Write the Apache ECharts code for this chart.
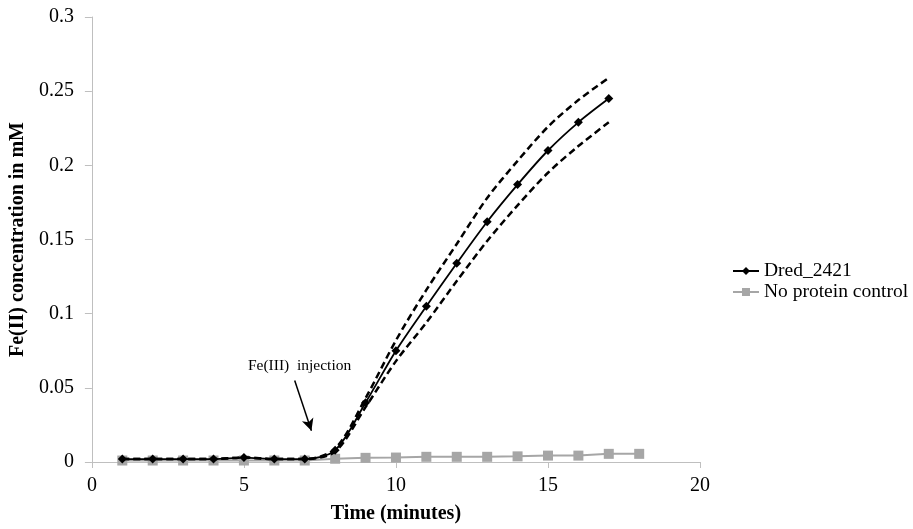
<!DOCTYPE html>
<html>
<head>
<meta charset="utf-8">
<script src="https://cdn.jsdelivr.net/npm/echarts@6/dist/echarts.min.js"></script>
<style>
    html, body { margin: 0; padding: 0; background: #fff; }
    #chart { width: 913px; height: 529px; }
</style>
</head>
<body>
<div id="chart"></div>
<script>
var timeDred = [1, 2, 3, 4, 5, 6, 7, 8, 9, 10, 11, 12, 13, 14, 15, 16, 17];
var dred = [0.002, 0.002, 0.002, 0.002, 0.003, 0.002, 0.002, 0.008, 0.040, 0.075, 0.105, 0.134, 0.162, 0.187, 0.210, 0.229, 0.245];
var dredUpper = [0.002, 0.002, 0.002, 0.002, 0.003, 0.002, 0.002, 0.009, 0.043, 0.082, 0.116, 0.147, 0.178, 0.203, 0.226, 0.244, 0.259];
var dredLower = [0.002, 0.002, 0.002, 0.002, 0.003, 0.002, 0.002, 0.007, 0.037, 0.068, 0.094, 0.122, 0.149, 0.173, 0.195, 0.213, 0.229];

var timeCtrl = [1, 2, 3, 4, 5, 6, 7, 8, 9, 10, 11, 12, 13, 14, 15, 16, 17, 18];
var noProtein = [0.001, 0.001, 0.001, 0.001, 0.001, 0.001, 0.001, 0.0022, 0.0028, 0.003, 0.0035, 0.0035, 0.0035, 0.0038, 0.0043, 0.0043, 0.0055, 0.0055];

var yTicks = ['0', '0.05', '0.1', '0.15', '0.2', '0.25', '0.3'];
var annotationText = 'Fe(III)  injection';

function pairs(xs, ys) {
    return xs.map(function (x, i) { return [x, ys[i]]; });
}

(function () {
    var myChart = echarts.init(document.getElementById('chart'));
    var serif = 'Liberation Serif';
    var axisGray = '#bfbfbf';

    var option = {
        animation: false,
        textStyle: { fontFamily: serif },
        legend: {
            data: [
                { name: 'Dred_2421' },
                { name: 'No protein control' }
            ],
            orient: 'vertical',
            left: 727,
            top: 256,
            itemWidth: 26,
            itemHeight: 10,
            itemGap: 1,
            textStyle: { fontFamily: serif, fontSize: 19.5, color: '#000' }
        },
        grid: {
            left: 90,
            right: 213,
            top: 17,
            bottom: 66,
            containLabel: false
        },
        xAxis: {
            type: 'value',
            min: 0,
            max: 20,
            interval: 5,
            name: 'Time (minutes)',
            nameLocation: 'middle',
            nameGap: 42,
            nameTextStyle: { fontFamily: serif, fontSize: 20, fontWeight: 'bold', color: '#000' },
            axisLine: { lineStyle: { color: axisGray, width: 1 } },
            axisTick: { show: true, length: 6, lineStyle: { color: axisGray } },
            axisLabel: { fontFamily: serif, fontSize: 20, color: '#000', margin: 14 },
            splitLine: { show: false }
        },
        yAxis: {
            type: 'value',
            min: 0,
            max: 0.3,
            interval: 0.05,
            name: 'Fe(II) concentration in mM',
            nameLocation: 'middle',
            nameGap: 61,
            nameTextStyle: { fontFamily: serif, fontSize: 20, fontWeight: 'bold', color: '#000' },
            axisLine: { show: true, lineStyle: { color: axisGray, width: 1 } },
            axisTick: { show: true, length: 7, lineStyle: { color: axisGray } },
            axisLabel: {
                fontFamily: serif, fontSize: 20, color: '#000', margin: 18,
                formatter: function (v) {
                    var idx = Math.round(v / 0.05);
                    return yTicks[idx] !== undefined ? yTicks[idx] : v;
                }
            },
            splitLine: { show: false }
        },
        series: [
            {
                name: 'No protein control',
                type: 'line',
                data: pairs(timeCtrl, noProtein),
                symbol: 'rect',
                symbolSize: 10,
                itemStyle: { color: '#a6a6a6' },
                lineStyle: { color: '#a6a6a6', width: 2 },
                z: 2
            },
            {
                name: 'upper',
                type: 'line',
                data: pairs(timeDred, dredUpper),
                smooth: 0.3,
                showSymbol: false,
                symbol: 'none',
                lineStyle: { color: '#000', width: 2.5, type: [7, 4] },
                z: 3
            },
            {
                name: 'lower',
                type: 'line',
                data: pairs(timeDred, dredLower),
                smooth: 0.3,
                showSymbol: false,
                symbol: 'none',
                lineStyle: { color: '#000', width: 2.5, type: [7, 4] },
                z: 3
            },
            {
                name: 'Dred_2421',
                type: 'line',
                data: pairs(timeDred, dred),
                smooth: 0.3,
                symbol: 'diamond',
                symbolSize: 9,
                itemStyle: { color: '#000' },
                lineStyle: { color: '#000', width: 1.8 },
                z: 4,
                markLine: {
                    silent: true,
                    symbol: ['none', 'arrow'],
                    symbolSize: [9, 12],
                    label: { show: false },
                    lineStyle: { color: '#000', width: 1.5, type: 'solid' },
                    data: [[{ coord: [6.67, 0.055] }, { coord: [7.22, 0.021] }]]
                },
                markPoint: {
                    silent: true,
                    symbol: 'circle',
                    symbolSize: 0,
                    label: {
                        show: true,
                        formatter: annotationText,
                        fontFamily: serif,
                        fontSize: 15.5,
                        color: '#000'
                    },
                    data: [{ coord: [6.83, 0.065] }]
                }
            }
        ]
    };

    myChart.setOption(option);
    window.addEventListener('resize', function () {
        myChart.resize();
    });
})();
</script>
</body>
</html>
